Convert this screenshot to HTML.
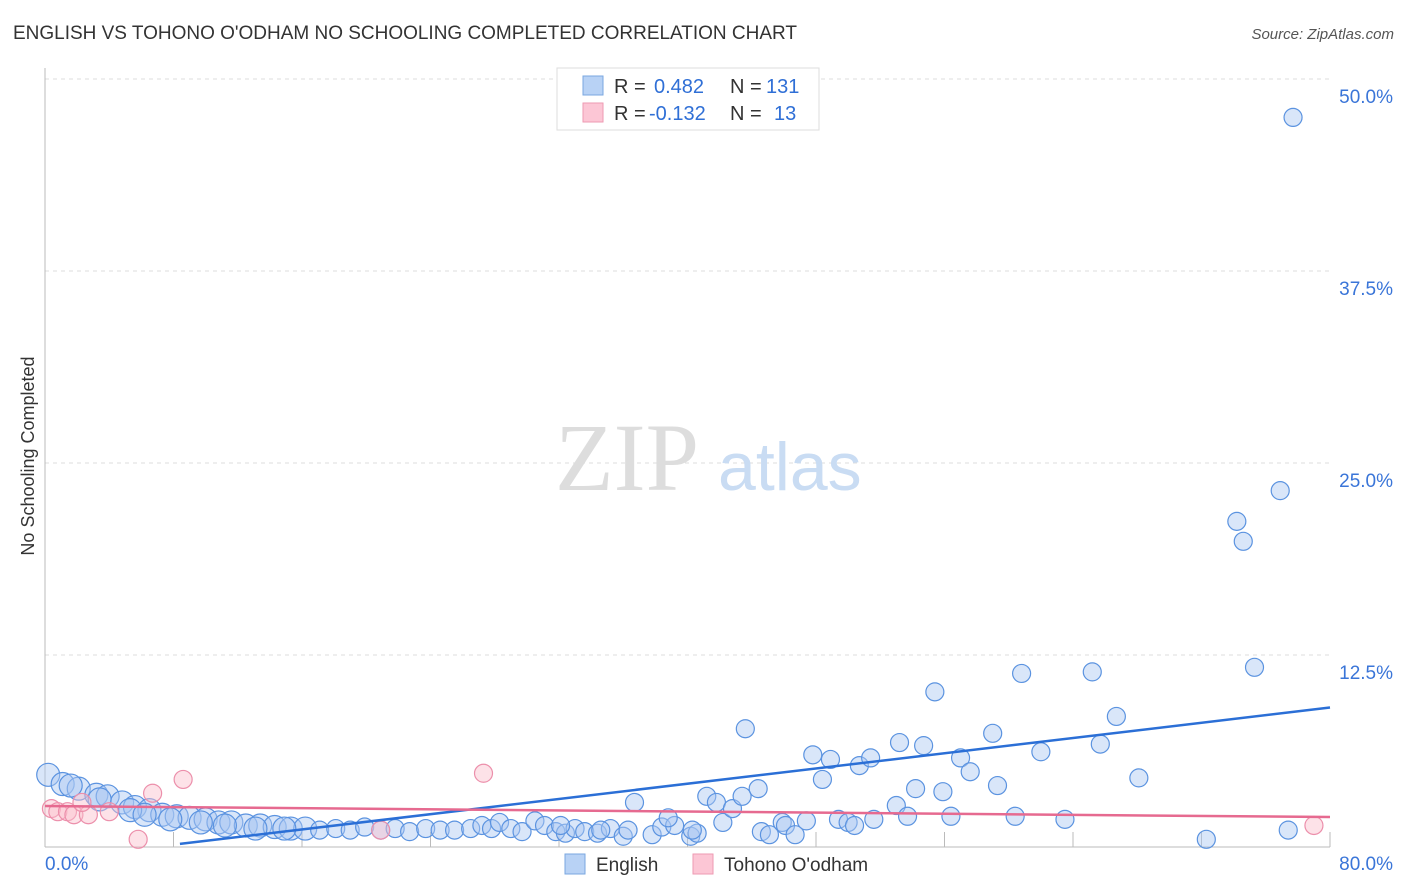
<!DOCTYPE html>
<html><head><meta charset="utf-8"><style>
body{margin:0;background:#fff;font-family:"Liberation Sans",sans-serif;}
#wrap{position:relative;width:1406px;height:892px;overflow:hidden;}
</style></head><body>
<div id="wrap">
<svg id="svg" width="1406" height="892" xmlns="http://www.w3.org/2000/svg">
<text x="13" y="39" font-size="19" fill="#333" textLength="784">ENGLISH VS TOHONO O'ODHAM NO SCHOOLING COMPLETED CORRELATION CHART</text>
<text x="1394" y="39" font-size="15" fill="#555" text-anchor="end" font-style="italic">Source: ZipAtlas.com</text>
<text x="34" y="456" font-size="18" fill="#333" text-anchor="middle" transform="rotate(-90 34 456)">No Schooling Completed</text>
<g id="grid"></g>
<text x="555" y="490" font-size="96" fill="#ddd" font-family="Liberation Serif,serif">ZIP</text>
<text x="718" y="490" font-size="68" fill="#c9dcf3">atlas</text>
<g id="marks"></g>
<g>
<rect x="557" y="68" width="262" height="62" fill="#fff" stroke="#ddd"/>
<rect x="583" y="76" width="20" height="19" fill="#b8d2f5" stroke="#7aa7e0"/>
<rect x="583" y="103" width="20" height="19" fill="#fcc6d5" stroke="#ee9ab2"/>
<text x="614" y="93" font-size="20" fill="#333">R = <tspan x="654" fill="#2f6fd6">0.482</tspan><tspan x="730">N = </tspan><tspan x="766" fill="#2f6fd6">131</tspan></text>
<text x="614" y="120" font-size="20" fill="#333">R = <tspan x="649" fill="#2f6fd6">-0.132</tspan><tspan x="730">N = </tspan><tspan x="774" fill="#2f6fd6">13</tspan></text>
</g>
<g>
<rect x="565" y="854" width="20" height="20" fill="#b8d2f5" stroke="#7aa7e0"/>
<text x="596" y="871" font-size="19" fill="#333">English</text>
<rect x="693" y="854" width="20" height="20" fill="#fcc6d5" stroke="#ee9ab2"/>
<text x="724" y="871" font-size="19" fill="#333">Tohono O'odham</text>
</g>
</svg>
</div>
<script>
const yTicks=[12.5,25,37.5,50];
const yTickLabels=["12.5%","25.0%","37.5%","50.0%"];
const xTickLabels=["0.0%","80.0%"];
const blueX=[0.2,1.1,2.1,3.2,3.9,4.8,5.6,6.5,7.3,8.2,9.0,10.0,10.8,11.6,12.5,13.4,14.3,15.3,16.2,1.6,3.4,5.3,6.2,7.8,9.7,11.2,13.1,14.9,
17.1,18.1,19.0,19.9,20.9,21.8,22.7,23.7,24.6,25.5,26.5,27.2,27.8,28.3,29.0,29.7,30.5,31.1,31.8,32.4,33.0,33.6,34.4,35.2,36.0,36.3,37.8,38.4,39.2,40.2,40.6,32.1,34.6,
36.7,38.8,40.3,41.2,41.8,42.2,42.8,43.4,44.4,43.6,44.6,45.1,45.9,46.1,46.7,47.4,47.8,48.4,48.9,49.4,50.0,50.4,50.7,51.4,51.6,53.0,53.2,53.7,54.2,54.7,55.4,55.9,56.4,57.0,57.6,59.0,59.3,60.4,60.8,62.0,63.5,65.2,65.7,66.7,68.1,72.3,74.2,74.6,75.3,76.9,77.4,77.7];
const blueY=[4.7,4.1,3.8,3.4,3.3,2.9,2.6,2.4,2.1,2.0,1.9,1.8,1.6,1.6,1.4,1.4,1.3,1.2,1.2,4.0,3.1,2.4,2.1,1.8,1.6,1.4,1.2,1.2,
1.1,1.2,1.1,1.3,1.1,1.2,1.0,1.2,1.1,1.1,1.2,1.4,1.2,1.6,1.2,1.0,1.7,1.4,1.0,0.9,1.2,1.0,0.9,1.2,0.7,1.1,0.8,1.3,1.4,0.7,0.9,1.4,1.1,
2.9,1.9,1.1,3.3,2.9,1.6,2.5,3.3,3.8,7.7,1.0,0.8,1.6,1.4,0.8,1.7,6.0,4.4,5.7,1.8,1.6,1.4,5.3,5.8,1.8,2.7,6.8,2.0,3.8,6.6,10.1,3.6,2.0,5.8,4.9,7.4,4.0,2.0,11.3,6.2,1.8,11.4,6.7,8.5,4.5,0.5,21.2,19.9,11.7,23.2,1.1,47.5];
const pinkX=[0.4,0.8,1.4,1.8,2.7,2.3,4.0,5.8,6.7,8.6,20.9,27.3,79.0];
const pinkY=[2.5,2.3,2.3,2.1,2.1,2.9,2.3,0.5,3.5,4.4,1.1,4.8,1.4];
const blueTrend=[-0.84,0.124];
const pinkTrend=[2.67,-0.009];
const X0=45,X1=1330,Y0=847,PX=(X1-X0)/80,PY=15.36;
const sx=v=>X0+v*PX, sy=v=>Y0-v*PY;
const NS="http://www.w3.org/2000/svg";
const grid=document.getElementById('grid'),marks=document.getElementById('marks');
function mk(tag,at,parent){const e=document.createElementNS(NS,tag);for(const k in at)e.setAttribute(k,at[k]);parent.appendChild(e);return e;}
yTicks.forEach((t,i)=>{
 const l=mk('line',{x1:X0,x2:X1,y1:sy(t),y2:sy(t),stroke:'#ddd','stroke-dasharray':'4,4'},grid);
 
 
 const tx=mk('text',{x:1393,y:sy(t)+24,'font-size':19,fill:'#3a75d8','text-anchor':'end'},grid);
 tx.textContent=yTickLabels[i];
 
 
});
const ax=mk('line',{x1:X0,x2:X0,y1:68,y2:Y0,stroke:'#bbb'},grid);


const bx=mk('line',{x1:X0,x2:X1,y1:Y0,y2:Y0,stroke:'#bbb'},grid);


for(let i=1;i<=10;i++){const t=mk('line',{x1:sx(i*8),x2:sx(i*8),y1:Y0-15,y2:Y0,stroke:'#bbb'},grid);
 
 }
[[0,xTickLabels[0],'start',45],[80,xTickLabels[1],'end',1393]].forEach(a=>{
 const t=mk('text',{x:a[3],y:870,'font-size':19,fill:'#3a75d8','text-anchor':a[2]},grid);t.textContent=a[1];
 
 });
blueX.forEach((x,i)=>{
 const c=mk('circle',{cx:sx(x),cy:sy(blueY[i]),r:x<17?11.5:9,fill:'rgba(170,200,242,0.45)',stroke:'#5b93e0','stroke-width':1.2},marks);
 
 
});
pinkX.forEach((x,i)=>{
 const c=mk('circle',{cx:sx(x),cy:sy(pinkY[i]),r:9,fill:'rgba(250,190,205,0.45)',stroke:'#ec8fab','stroke-width':1.2},marks);
 
 
});
const bs=8.4;
const bl=mk('line',{x1:sx(bs),y1:sy(blueTrend[0]+blueTrend[1]*bs),x2:sx(80),y2:sy(blueTrend[0]+blueTrend[1]*80),stroke:'#2b6fd6','stroke-width':2.5},marks);


const pl=mk('line',{x1:sx(0),y1:sy(pinkTrend[0]),x2:sx(80),y2:sy(pinkTrend[0]+pinkTrend[1]*80),stroke:'#e66a90','stroke-width':2.5},marks);


</script>
</body></html>
